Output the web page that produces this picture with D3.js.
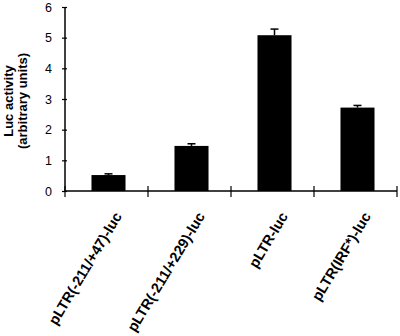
<!DOCTYPE html>
<html>
<head>
<meta charset="utf-8">
<script src="https://cdn.jsdelivr.net/npm/d3@7"></script>
<style>
  body { margin: 0; background: #fff; }
  svg { display: block; font-family: "Liberation Sans", Arial, sans-serif; }
</style>
</head>
<body>
<svg width="400" height="336"></svg>
<script>
let categories = ["pLTR(-211/+47)-luc", "pLTR(-211/+229)-luc", "pLTR-luc", "pLTR(IRF*)-luc"]
let values = [0.52, 1.47, 5.08, 2.72]
let errors = [0.04, 0.07, 0.2, 0.07]
let yTicks = [0, 1, 2, 3, 4, 5, 6]

let svg = d3.select("svg")
let plotLeft = 65, plotRight = 397, plotTop = 7, plotBottom = 191

let x = d3.scaleBand()
    .domain(categories)
    .range([plotLeft, plotRight])
    .padding(0)

let y = d3.scaleLinear()
    .domain([0, 6])
    .range([plotBottom, plotTop])

let barW = x.bandwidth() * 0.41

// bars
svg.selectAll("rect.bar")
  .data(categories)
  .enter().append("rect")
    .attr("class", "bar")
    .attr("x", d => x(d) + x.bandwidth() / 2 - barW / 2 + 2)
    .attr("y", (d, i) => y(values[i]))
    .attr("width", barW)
    .attr("height", (d, i) => y(0) - y(values[i]))
    .attr("fill", "#000")

// error bars (upper only)
let err = svg.selectAll("g.err")
  .data(categories)
  .enter().append("g")
    .attr("class", "err")
    .attr("transform", d => `translate(${x(d) + x.bandwidth() / 2 + 2},0)`)

err.append("line")
    .attr("y1", (d, i) => y(values[i]))
    .attr("y2", (d, i) => y(values[i] + errors[i]))
    .attr("stroke", "#000").attr("stroke-width", 1.5)

err.append("line")
    .attr("x1", -4).attr("x2", 4)
    .attr("y1", (d, i) => y(values[i] + errors[i]))
    .attr("y2", (d, i) => y(values[i] + errors[i]))
    .attr("stroke", "#000").attr("stroke-width", 1.5)

// y axis
let yAxisG = svg.append("g")
    .attr("transform", `translate(${plotLeft},0)`)
    .call(d3.axisLeft(y).tickValues(yTicks).tickFormat(d3.format("d")).tickSize(3).tickPadding(10))

yAxisG.select(".domain").attr("d", `M0,${plotTop}V${plotBottom}`).attr("stroke-width", 1.5)
yAxisG.selectAll(".tick line").attr("x2", -3).attr("x1", 2).attr("stroke-width", 1.2)
yAxisG.selectAll(".tick text")
    .attr("font-size", 12.5)
    .attr("font-family", "Liberation Sans, Arial, sans-serif")
    .attr("fill", "#000")

// x axis line with boundary ticks
svg.append("line")
    .attr("x1", plotLeft).attr("x2", plotRight)
    .attr("y1", plotBottom).attr("y2", plotBottom)
    .attr("stroke", "#000").attr("stroke-width", 1.5)

let bounds = categories.map(d => x(d)).concat([plotRight])
svg.selectAll("line.xtick")
  .data(bounds)
  .enter().append("line")
    .attr("class", "xtick")
    .attr("x1", d => d).attr("x2", d => d)
    .attr("y1", plotBottom - 5).attr("y2", plotBottom + 6)
    .attr("stroke", "#000").attr("stroke-width", 1.2)

// x labels
svg.selectAll("text.xlab")
  .data(categories)
  .enter().append("text")
    .attr("class", "xlab")
    .attr("transform", d => `translate(${x(d) + x.bandwidth() / 2 + 16},${plotBottom + 25}) rotate(-59)`)
    .attr("text-anchor", "end")
    .attr("font-size", 14.5)
    .attr("font-weight", "bold")
    .attr("fill", "#000")
    .text(d => d)

// y axis title
let yt = svg.append("text")
    .attr("transform", `translate(13,101) rotate(-90)`)
    .attr("text-anchor", "middle")
    .attr("font-size", 13)
    .attr("font-weight", "bold")

yt.append("tspan").attr("x", 0).attr("dy", 0).text("Luc activity")
yt.append("tspan").attr("x", 0).attr("dy", 13.5).text("(arbitrary units)")
</script>
</body>
</html>
